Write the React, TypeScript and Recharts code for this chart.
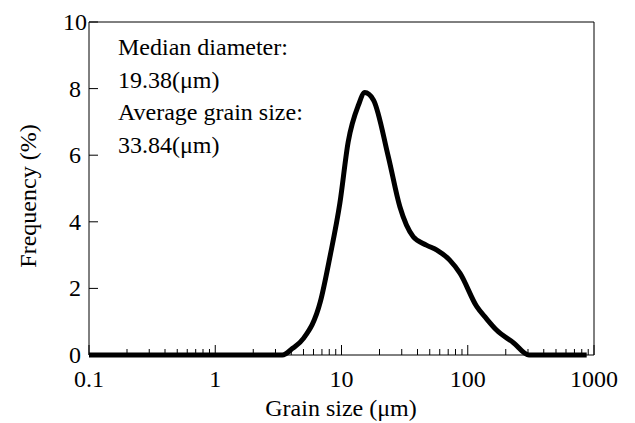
import { LineChart, Line, XAxis, YAxis, ReferenceLine, Customized } from 'recharts';

// grain size (µm) vs frequency (%)
const grainSizes = [0.1, 0.5, 1, 2, 3, 3.4, 4.1, 5.0, 6.8, 8.1, 9.7, 11.3, 13.6, 15.3, 17.9, 23.5, 29, 37, 47, 57, 72, 87, 118, 140, 169, 230, 305, 500, 875];
const frequencies = [0, 0, 0, 0, 0, 0, 0.2, 0.5, 1.6, 2.95, 4.55, 6.4, 7.5, 7.88, 7.66, 5.95, 4.45, 3.55, 3.3, 3.15, 2.85, 2.45, 1.45, 1.1, 0.75, 0.37, 0, 0, 0];

const majorTicks = [0.1, 1, 10, 100, 1000];
const minorSteps = [2, 3, 4, 5, 6, 7, 8, 9];
const yTicks = [0, 2, 4, 6, 8, 10];
const noteLines = ['Median diameter:', '19.38(μm)', 'Average grain size:', '33.84(μm)'];

const FONT = 'Liberation Serif';
const FS = 24;
const textStyle = { fontFamily: FONT, fontSize: FS };

const data = grainSizes.map((size, i) => ({ size, freq: frequencies[i] }));

const minorTicks = majorTicks.slice(0, -1).flatMap((m) => minorSteps.map((s) => +(m * s).toPrecision(3)));
const allXTicks = [...majorTicks, ...minorTicks].sort((a, b) => a - b);

const XTick = ({ x, y, payload }: any) => {
  const isMajor = majorTicks.includes(payload.value);
  return (
    <g>
      <line x1={x} x2={x} y1={y} y2={y - (isMajor ? 10 : 6)} stroke="#000" strokeWidth={1} />
      {isMajor && (
        <text x={x} y={y + 32} textAnchor="middle" style={textStyle} fill="#000">
          {payload.value}
        </text>
      )}
    </g>
  );
};

const YTick = ({ x, y, payload }: any) => (
  <g>
    <line x1={x} x2={x + 9} y1={y} y2={y} stroke="#000" strokeWidth={1} />
    <text x={payload.value === 10 ? x - 2 : x - 8} y={y + 8} textAnchor="end" style={textStyle} fill="#000">
      {payload.value}
    </text>
  </g>
);

const Texts = () => (
  <g fill="#000">
    {noteLines.map((t, i) => (
      <text key={i} x={118} y={55 + i * 32.7} style={textStyle}>
        {t}
      </text>
    ))}
    <text x={341} y={416} textAnchor="middle" style={textStyle}>
      Grain size (μm)
    </text>
    <text x={36} y={196} textAnchor="middle" transform="rotate(-90 36 196)" style={textStyle}>
      Frequency (%)
    </text>
  </g>
);

export default function App() {
  return (
    <div style={{ position: 'fixed', left: 0, top: 0, background: '#fff', fontFamily: FONT }}>
      <LineChart width={635} height={423} data={data} margin={{ top: 22, right: 41, left: 0, bottom: 0 }}>
        <XAxis
          dataKey="size"
          type="number"
          scale="log"
          domain={[0.1, 1000]}
          ticks={allXTicks}
          interval={0}
          height={68}
          tickSize={0}
          tickMargin={0}
          tick={<XTick />}
          tickLine={false}
          axisLine={{ stroke: '#000', strokeWidth: 1 }}
          allowDataOverflow
        />
        <YAxis
          type="number"
          domain={[0, 10]}
          ticks={yTicks}
          interval={0}
          width={89}
          tickSize={0}
          tickMargin={0}
          tick={<YTick />}
          tickLine={false}
          axisLine={{ stroke: '#000', strokeWidth: 1 }}
        />
        <ReferenceLine y={10} stroke="#000" strokeWidth={1} />
        <ReferenceLine x={1000} stroke="#000" strokeWidth={1} />
        <Line
          type="monotone"
          dataKey="freq"
          stroke="#000"
          strokeWidth={5}
          dot={false}
          activeDot={false}
          isAnimationActive={false}
        />
        <Customized component={<Texts />} />
      </LineChart>
    </div>
  );
}
